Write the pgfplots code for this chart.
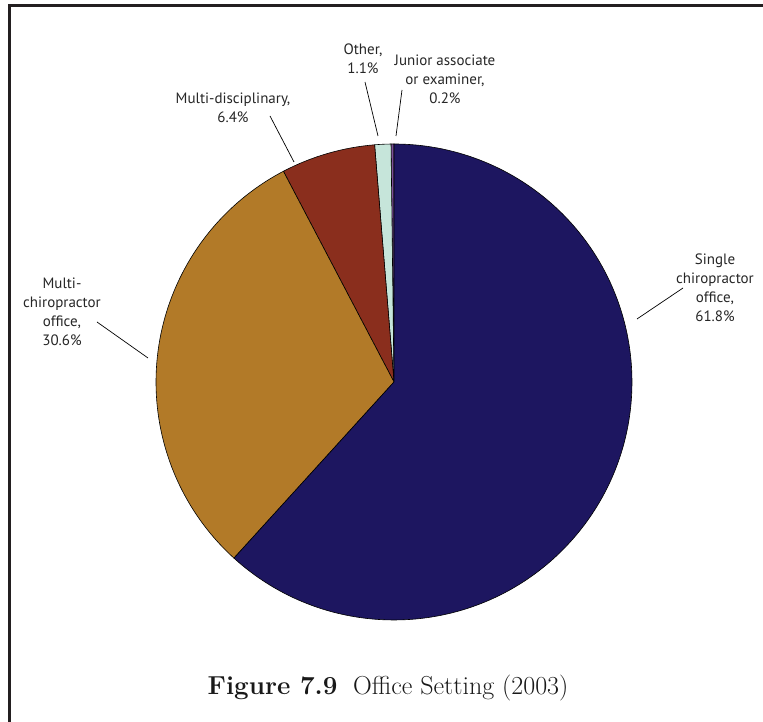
\documentclass[border=0pt]{standalone}
\usepackage{pgfplots}
\pgfplotsset{compat=1.18}
\usepackage{fontspec}
\newfontfamily\lab{PT Sans}
\definecolor{cSin}{HTML}{1D1660}
\definecolor{cMc}{HTML}{B27A28}
\definecolor{cMd}{HTML}{8A2E1D}
\definecolor{cOth}{HTML}{C6E5DA}
\definecolor{cJun}{HTML}{7B4F9A}
\definecolor{frame}{HTML}{231F20}
% pie shares (percent), counter-clockwise from the top
\def\piedata{0.2/cJun, 1.1/cOth, 6.4/cMd, 30.6/cMc, 61.8/cSin}
\begin{document}
\begin{tikzpicture}
\begin{axis}[hide axis, scale only axis, width=763pt, height=722pt,
  xmin=0, xmax=763, ymin=0, ymax=722, clip=false]
\gdef\cumangle{90}
\foreach \v/\c in \piedata {%
  \pgfmathsetmacro\endang{\cumangle+\v*3.6/1.001}%
  \edef\temp{\noexpand\filldraw[fill=\c, draw=black, line width=0.6pt]
    (axis cs:394,340) -- ++(\cumangle:238pt)
    arc[start angle=\cumangle, end angle=\endang, radius=238pt] -- cycle;}%
  \temp
  \xdef\cumangle{\endang}%
}
\draw[frame, line width=3pt] (axis cs:9,-10) -- (axis cs:9,716) -- (axis cs:775,716);
\begin{scope}[every node/.style={align=center, font=\lab\fontsize{15}{19}\selectfont, text=black!85}]
\node at (axis cs:715,434) {Single\\chiropractor\\office,\\61.8\%};
\node at (axis cs:62,410) {Multi-\\chiropractor\\office,\\30.6\%};
\node at (axis cs:233,614) {Multi-disciplinary,\\6.4\%};
\node at (axis cs:363,663) {Other,\\1.1\%};
\node at (axis cs:445,643) {Junior associate\\or examiner,\\0.2\%};
\end{scope}
\draw[line width=0.7pt] (axis cs:365,640) -- (axis cs:378,586);
\draw[line width=0.7pt] (axis cs:402,632) -- (axis cs:396,586);
\draw[line width=0.7pt] (axis cs:270,606) -- (axis cs:294,560);
\draw[line width=0.7pt] (axis cs:97,400) -- (axis cs:148,364);
\draw[line width=0.7pt] (axis cs:683,434) -- (axis cs:637,403);
\node[font=\fontsize{26}{30}\selectfont, text=black!90] at (axis cs:388,34) {\textbf{Figure 7.9}\ \ Office Setting (2003)};
\end{axis}
\pgfresetboundingbox
\useasboundingbox (0,0) rectangle (763pt,722pt);
\end{tikzpicture}
\end{document}
